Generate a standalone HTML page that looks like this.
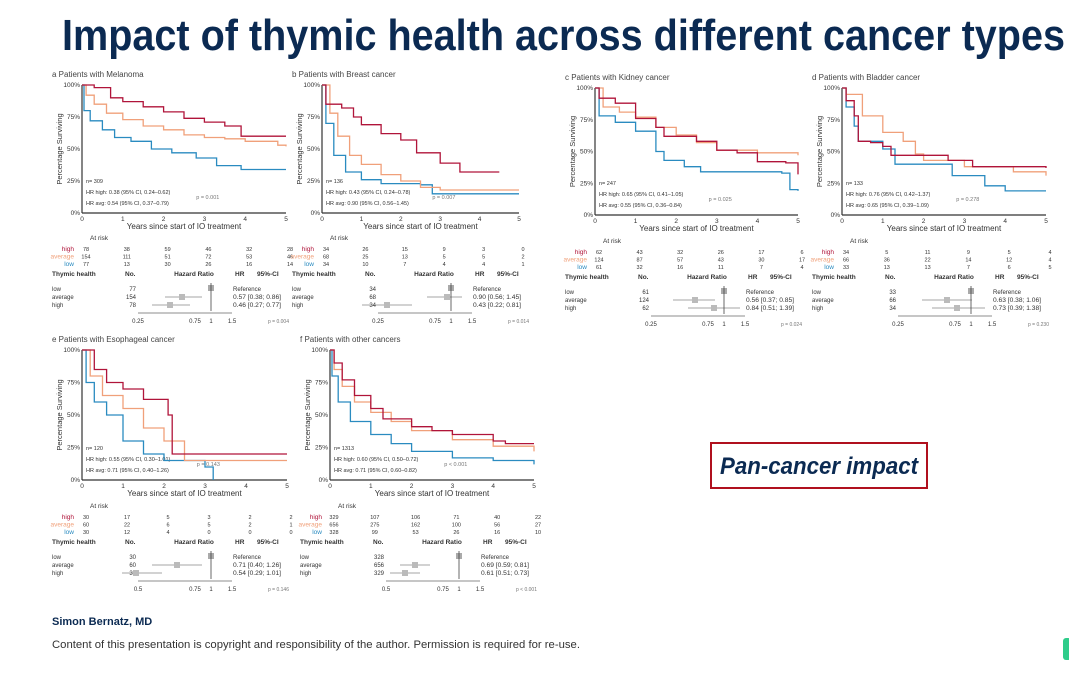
<!DOCTYPE html>
<html><head><meta charset="utf-8"><style>
html,body{margin:0;padding:0;background:#fff;}
svg{display:block;font-family:"Liberation Sans",sans-serif;}
</style></head><body>
<svg id="s" width="1069" height="674" xmlns="http://www.w3.org/2000/svg">
<text x="62" y="50" font-size="44" font-weight="bold" fill="#0b2a52" textLength="1003" lengthAdjust="spacingAndGlyphs">Impact of thymic health across different cancer types</text>
<rect x="711" y="443" width="216" height="45" fill="#fff" stroke="#b0101e" stroke-width="2"/>
<text x="720" y="474" font-size="24" font-weight="bold" font-style="italic" fill="#0b2a52" textLength="198" lengthAdjust="spacingAndGlyphs">Pan-cancer impact</text>
<text x="52" y="625" font-size="11" font-weight="bold" fill="#0b2a52">Simon Bernatz, MD</text>
<text x="52" y="648" font-size="11" fill="#333" textLength="528" lengthAdjust="spacingAndGlyphs">Content of this presentation is copyright and responsibility of the author. Permission is required for re-use.</text>
<rect x="1063" y="638" width="8" height="22" rx="3" fill="#2ecc8a"/>
<g id="g"></g>
</svg>
<script>
var C={h:"#b0143a",a:"#f0a07a",l:"#2a8bc0"};
var out="";
function T(x,y,t,o){o=o||{};out+='<text x="'+x+'" y="'+y+'" font-size="'+(o.s||6.5)+'" fill="'+(o.c||"#333")+'"'+(o.a?' text-anchor="'+o.a+'"':'')+(o.w?' font-weight="bold"':'')+(o.L?' textLength="'+o.L+'" lengthAdjust="spacingAndGlyphs"':'')+(o.r?' transform="rotate(-90 '+x+' '+y+')"':'')+'>'+t+'</text>';}
function L(x1,y1,x2,y2,c,w){out+='<line x1="'+x1+'" y1="'+y1+'" x2="'+x2+'" y2="'+y2+'" stroke="'+(c||"#333")+'" stroke-width="'+(w||1)+'"/>';}
function P(p){
 var X0=p.x0,X1=p.x1,Y0=p.y0,Y1=p.y1;
 function fx(t){return X0+(X1-X0)*t/5;} function fy(s){return Y1-(Y1-Y0)*s;}
 T(X0-30,Y0-8,p.t,{s:8,c:"#444"});
 L(X0,Y0,X0,Y1,"#333",1.2);L(X0,Y1,X1,Y1,"#333",1.2);
 ["0%","25%","50%","75%","100%"].forEach(function(l,i){T(X0-2,fy(i/4)+2,l,{a:"end",s:6.5});});
 for(var i=0;i<=5;i++)T(fx(i),Y1+8,i,{a:"middle",s:6.5});
 T(X0-20,(Y0+Y1)/2,"Percentage Surviving",{a:"middle",s:7.5,r:1});
 T((X0+X1)/2,Y1+16,"Years since start of IO treatment",{a:"middle",s:8});
 T(X0+4,Y1-30,"n= "+p.n,{s:5.5});
 T(X0+4,Y1-19,p.hr1,{s:5.5});T(X0+4,Y1-8,p.hr2,{s:5.5});
 T(X0+(X1-X0)*0.56,Y1-14,p.p,{s:5.5,c:"#777"});
 ["l","a","h"].forEach(function(k){var d=p.c[k],s="M"+fx(d[0][0])+","+fy(d[0][1]);
  for(var j=1;j<d.length;j++){s+=" H"+fx(d[j][0]).toFixed(1)+" V"+fy(d[j][1]).toFixed(1);}
  out+='<path d="'+s+'" fill="none" stroke="'+C[k]+'" stroke-width="1.3"/>';});
 var r=p.r; T(X0+8,r,"At risk",{s:6.5});
 var lab=[["high","h"],["average","a"],["low","l"]];
 lab.forEach(function(q,i){var y=r+11+i*7.5;T(X0-8,y,q[0],{a:"end",s:6.5,c:C[q[1]]});
  p.risk[i].forEach(function(v,j){T(fx(j)+4,y,v,{a:"middle",s:5.5});});});
 var hy=r+36; T(X0-30,hy,"Thymic health",{s:6.5,w:1});T(X0+43,hy,"No.",{s:6.5,w:1});
 T(X0+112,hy,"Hazard Ratio",{s:6.5,w:1,a:"middle"});T(X0+153,hy,"HR",{s:6.5,w:1});T(X0+175,hy,"95%-CI",{s:6.5,w:1});
 var ref=X0+129;
 ["low","average","high"].forEach(function(n,i){var y=hy+15+i*8;T(X0-30,y,n,{s:6});T(X0+54,y,p.no[i],{s:6,a:"end"});
  if(i==0){T(X0+151,y,"Reference",{s:6,L:28});out+='<rect x="'+(ref-3)+'" y="'+(y-6)+'" width="6" height="6" fill="#aaa"/>';}
  else{var m=X0+p.f[i-1][0];L(X0+p.f[i-1][1],y-2,X0+p.f[i-1][2],y-2,"#888",0.7);out+='<rect x="'+(m-3)+'" y="'+(y-5)+'" width="6" height="6" fill="#bbb"/>';T(X0+151,y,p.ci[i-1],{s:6,L:48});}});
 L(ref,hy+7,ref,hy+35,"#444",0.8);
 var ay=hy+37;L(X0+56,ay,X0+150,ay,"#666",0.7);
 T(X0+56,ay+10,p.t1||"0.25",{a:"middle",s:6});T(X0+113,ay+10,"0.75",{a:"middle",s:6});T(ref,ay+10,"1",{a:"middle",s:6});T(X0+150,ay+10,"1.5",{a:"middle",s:6});
 T(X0+186,ay+10,p.pp,{s:5,c:"#777"});
}
P({t:"a  Patients with Melanoma",x0:82,x1:286,y0:85,y1:213,n:"309",hr1:"HR high: 0.38 (95% CI, 0.24–0.62)",hr2:"HR avg: 0.54 (95% CI, 0.37–0.79)",p:"p = 0.001",
c:{h:[[0,1],[0.3,.98],[0.7,.9],[1,.87],[1.5,.83],[2,.79],[2.5,.74],[3,.71],[3.5,.68],[3.9,.6],[5,.6]],
a:[[0,1],[0.1,.92],[0.3,.85],[0.6,.78],[1,.73],[1.5,.68],[2,.65],[2.5,.61],[3,.59],[3.5,.58],[4,.56],[4.8,.53],[5,.52]],
l:[[0,1],[0.05,.8],[0.2,.72],[0.5,.65],[0.8,.59],[1.2,.56],[1.7,.5],[2.2,.47],[2.8,.43],[3.3,.37],[3.9,.34],[5,.34]]},
r:240,risk:[[78,38,59,46,32,28],[154,111,51,72,53,46],[77,13,30,26,16,14]],no:[77,154,78],f:[[100,83,120],[88,70,108]],ci:["0.57 [0.38; 0.86]","0.46 [0.27; 0.77]"],pp:"p = 0.004"});
P({t:"b  Patients with Breast cancer",x0:322,x1:519,y0:85,y1:213,n:"136",hr1:"HR high: 0.43 (95% CI, 0.24–0.78)",hr2:"HR avg: 0.90 (95% CI, 0.56–1.45)",p:"p = 0.007",
c:{h:[[0,1],[0.1,.85],[0.5,.82],[0.8,.75],[1,.69],[1.5,.62],[2,.57],[2.4,.47],[3,.39],[3.5,.32],[4.5,.32]],
a:[[0,1],[0.2,.78],[0.4,.6],[0.7,.45],[1,.38],[1.5,.3],[2,.25],[2.5,.2],[3,.18],[5,.18]],
l:[[0,1],[0.1,.7],[0.3,.45],[0.6,.32],[1,.26],[1.5,.23],[2.5,.22],[2.8,.15],[5,.15]]},
r:240,risk:[[34,26,15,9,3,0],[68,25,13,5,5,2],[34,10,7,4,4,1]],no:[34,68,34],f:[[125,105,140],[65,40,90]],ci:["0.90 [0.56; 1.45]","0.43 [0.22; 0.81]"],pp:"p = 0.014"});
P({t:"c  Patients with Kidney cancer",x0:595,x1:798,y0:88,y1:215,n:"247",hr1:"HR high: 0.65 (95% CI, 0.41–1.05)",hr2:"HR avg: 0.55 (95% CI, 0.36–0.84)",p:"p = 0.025",
c:{h:[[0,1],[.1,.92],[.5,.88],[1,.76],[1.5,.69],[1.7,.62],[2.5,.58],[3,.51],[3.5,.49],[4,.42],[4.7,.41],[5,.32]],
a:[[0,1],[.2,.85],[.6,.81],[1,.77],[1.5,.69],[2,.63],[2.5,.57],[3,.51],[4,.49],[5,.47]],
l:[[0,1],[.1,.78],[.5,.73],[1,.66],[1.5,.5],[1.7,.43],[2.2,.38],[2.6,.34],[4.6,.33],[4.8,.2],[5,.19]]},
r:243,risk:[[62,43,32,26,17,6],[124,87,57,43,30,17],[61,32,16,11,7,4]],no:[61,124,62],f:[[100,78,120],[119,93,145]],ci:["0.56 [0.37; 0.85]","0.84 [0.51; 1.39]"],pp:"p = 0.024"});
P({t:"d  Patients with Bladder cancer",x0:842,x1:1046,y0:88,y1:215,n:"133",hr1:"HR high: 0.76 (95% CI, 0.42–1.37)",hr2:"HR avg: 0.65 (95% CI, 0.39–1.09)",p:"p = 0.278",
c:{h:[[0,1],[.1,.9],[.3,.78],[.4,.58],[.7,.57],[1,.54],[1.2,.47],[2.6,.43],[3.2,.38],[5,.37]],
a:[[0,1],[.1,.95],[.5,.78],[1,.65],[1.5,.58],[1.8,.48],[2,.43],[3,.38],[4.2,.34],[5,.31]],
l:[[0,1],[.1,.85],[.3,.7],[.4,.58],[1,.52],[1.3,.4],[2.5,.4],[2.7,.31],[3.5,.23],[4,.19],[5,.19]]},
r:243,risk:[[34,5,11,9,5,4],[66,36,22,14,12,4],[33,13,13,7,6,5]],no:[33,66,34],f:[[105,80,130],[115,90,143]],ci:["0.63 [0.38; 1.06]","0.73 [0.39; 1.38]"],pp:"p = 0.230"});
P({t:"e  Patients with Esophageal cancer",x0:82,x1:287,y0:350,y1:480,n:"120",hr1:"HR high: 0.55 (95% CI, 0.30–1.01)",hr2:"HR avg: 0.71 (95% CI, 0.40–1.26)",p:"p = 0.143",
c:{h:[[0,1],[.3,.85],[.6,.75],[1,.7],[1.5,.62],[2.1,.5],[2.2,.2],[5,.2]],
a:[[0,1],[.2,.8],[.5,.65],[1,.55],[1.5,.4],[2,.3],[2.5,.15],[5,.15]],
l:[[0,1],[.1,.75],[.3,.6],[.6,.5],[1,.3],[1.5,.2],[2,.15],[3,.1],[3.2,0]]},
r:508,risk:[[30,17,5,3,2,2],[60,22,6,5,2,1],[30,12,4,0,0,0]],no:[30,60,30],f:[[95,70,120],[54,40,80]],ci:["0.71 [0.40; 1.26]","0.54 [0.29; 1.01]"],pp:"p = 0.146",t1:"0.5"});
P({t:"f  Patients with other cancers",x0:330,x1:534,y0:350,y1:480,n:"1313",hr1:"HR high: 0.60 (95% CI, 0.50–0.72)",hr2:"HR avg: 0.71 (95% CI, 0.60–0.82)",p:"p < 0.001",
c:{h:[[0,1],[.1,.9],[.3,.77],[.6,.65],[1,.55],[1.3,.47],[2,.41],[2.5,.38],[3,.35],[4,.3],[4.3,.28],[5,.28]],
a:[[0,1],[.1,.85],[.3,.72],[.6,.6],[1,.52],[1.5,.45],[2,.38],[3,.31],[4,.26],[5,.22]],
l:[[0,1],[.05,.8],[.2,.6],[.5,.45],[1,.35],[1.5,.28],[2,.22],[3,.17],[4,.15],[5,.12]]},
r:508,risk:[[329,107,106,71,40,22],[656,275,162,100,56,27],[328,99,53,26,16,10]],no:[328,656,329],f:[[85,70,100],[75,60,90]],ci:["0.69 [0.59; 0.81]","0.61 [0.51; 0.73]"],pp:"p < 0.001",t1:"0.5"});
document.getElementById("g").innerHTML=out;
</script>
</body></html>
